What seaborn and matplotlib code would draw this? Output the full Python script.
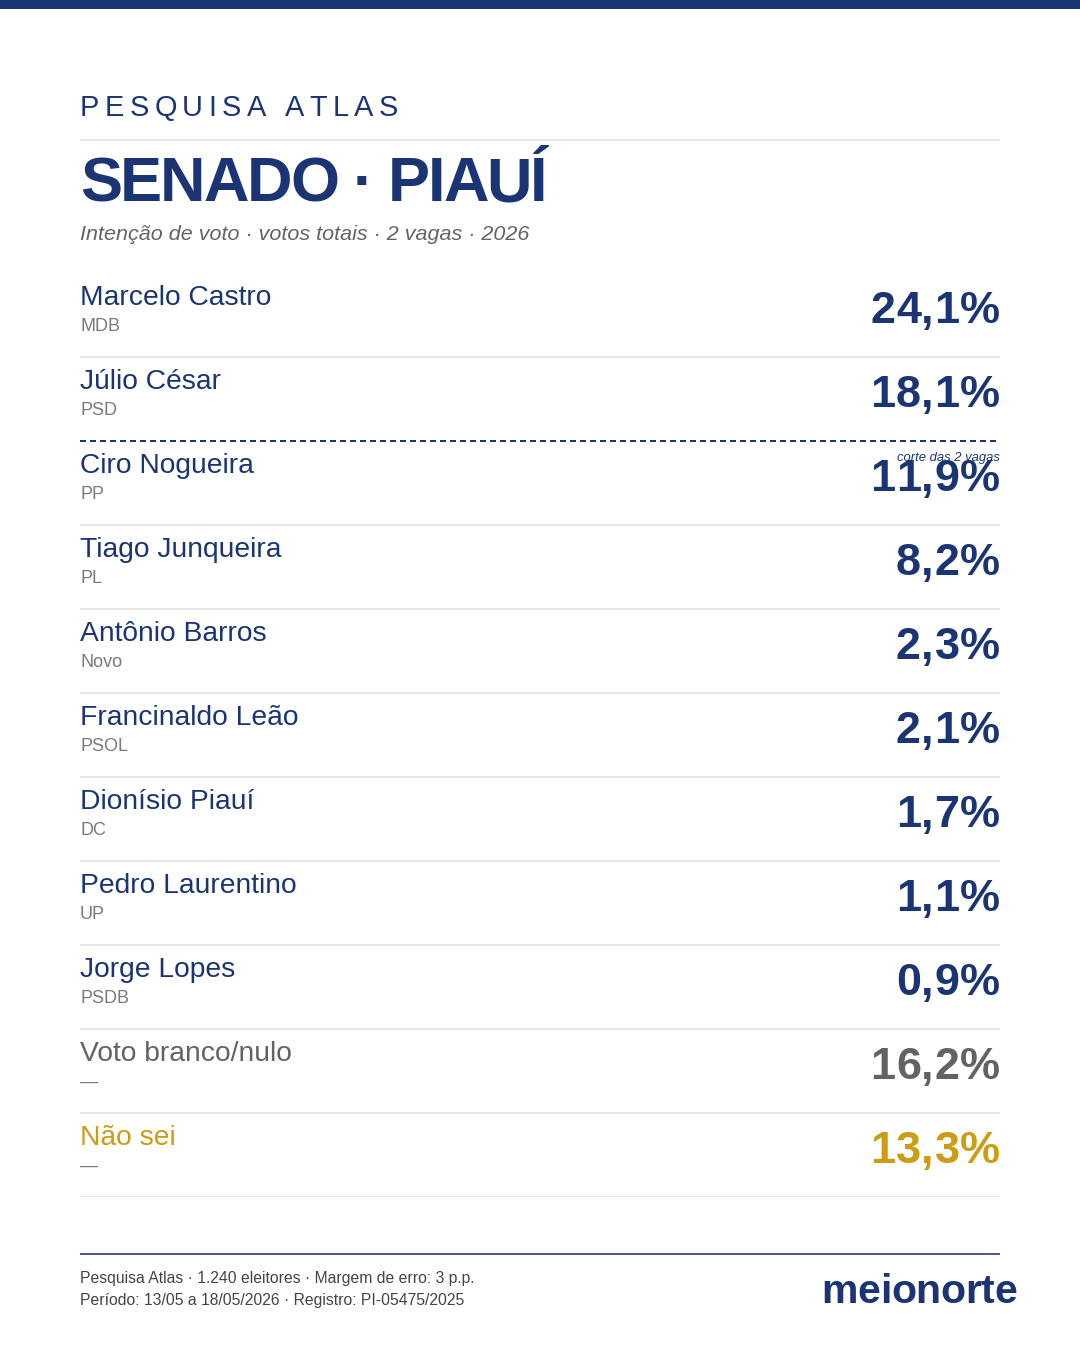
import matplotlib
matplotlib.use("Agg")
import matplotlib.pyplot as plt
import seaborn as sns
from matplotlib.font_manager import FontProperties, findfont
from matplotlib.ft2font import FT2Font

# ---------------- data ----------------
candidates = ["Marcelo Castro", "Júlio César", "Ciro Nogueira", "Tiago Junqueira",
              "Antônio Barros", "Francinaldo Leão", "Dionísio Piauí",
              "Pedro Laurentino", "Jorge Lopes", "Voto branco/nulo", "Não sei"]
parties = ["MDB", "PSD", "PP", "PL", "Novo", "PSOL", "DC", "UP", "PSDB", "—", "—"]
values = [24.1, 18.1, 11.9, 8.2, 2.3, 2.1, 1.7, 1.1, 0.9, 16.2, 13.3]
kinds = ["cand"] * 9 + ["blank", "unsure"]
seats = 2

kicker = "PESQUISA ATLAS"
title = "SENADO · PIAUÍ"
subtitle = "Intenção de voto · votos totais · 2 vagas · 2026"
cut_label = "corte das 2 vagas"
footer1 = "Pesquisa Atlas · 1.240 eleitores · Margem de erro: 3 p.p."
footer2 = "Período: 13/05 a 18/05/2026 · Registro: PI-05475/2025"
brand = "meionorte"

# ---------------- style ----------------
NAVY = "#1b3574"
GREY_PARTY = "#7a7a7a"
GREY = "#636363"
GOLD = "#cc9c14"
LINE = "#e8e8e8"

sns.set_theme(style="white")
plt.rcParams["font.family"] = ["Liberation Sans", "DejaVu Sans"]

W, H, DPI = 1080, 1350, 100
fig = plt.figure(figsize=(W / DPI, H / DPI), dpi=DPI)
fig.patch.set_facecolor("white")

bg = fig.add_axes([0, 0, 1, 1])
bg.set_xlim(0, W)
bg.set_ylim(H, 0)
bg.axis("off")


def px(v):
    return v * 72 / DPI


def tracked(ax, x, y, s, size_px, track_px=0.0, ha="left", weight="normal",
            style="normal", color="k"):
    prop = FontProperties(family="Liberation Sans", weight=weight, style=style)
    path = findfont(prop)
    f = FT2Font(path, hinting_factor=1)
    f.set_size(px(size_px), DPI)
    advs = [f.load_char(ord(c)).linearHoriAdvance / 65536 for c in s]
    total = sum(advs) + track_px * (len(s) - 1)
    cx = x if ha == "left" else x - total
    for c, a in zip(s, advs):
        ax.text(cx, y, c, fontsize=px(size_px), fontweight=weight, fontstyle=style,
                color=color, ha="left", va="baseline", family="Liberation Sans")
        cx += a + track_px


# top bar
bg.axhspan(0, 9, color=NAVY, lw=0)

# header
tracked(bg, 80, 116, kicker, 29, 5.4, color=NAVY)
bg.plot([80, 1000], [140, 140], color=LINE, lw=px(2), solid_capstyle="butt")
tracked(bg, 80, 201, title, 63, -2.0, weight="bold", color=NAVY)
bg.text(80, 240, subtitle, fontsize=px(21.5), fontstyle="italic", color=GREY,
        ha="left", va="baseline")

# ---------------- rows ----------------
top, bottom = 273, 1197
n = len(candidates)
ax = fig.add_axes([0, 1 - bottom / H, 1, (bottom - top) / H])
ax.set_xlim(0, W)
ax.set_ylim(n, 0)
ax.axis("off")
ax.patch.set_alpha(0)

row_h = (bottom - top) / n
name_col = {"cand": NAVY, "blank": GREY, "unsure": GOLD}
val_col = {"cand": NAVY, "blank": GREY, "unsure": GOLD}
party_col = {"cand": GREY_PARTY, "blank": GREY_PARTY, "unsure": GREY_PARTY}

for i, (nm, pt, v, k) in enumerate(zip(candidates, parties, values, kinds)):
    ax.text(80, i + 32 / row_h, nm, fontsize=px(28.2), color=name_col[k],
            ha="left", va="baseline")
    ax.text(80, i + 58 / row_h, pt, fontsize=px(18), color=party_col[k],
            ha="left", va="baseline")
    label = f"{v:.1f}".replace(".", ",") + "%"
    tracked(ax, 1000, i + 50 / row_h, label, 45, 0.5, ha="right",
            weight="bold", color=val_col[k])
    if i + 1 == seats:
        ax.plot([80, 1000], [i + 1, i + 1], color=NAVY, lw=px(2),
                linestyle=(0, (3, 2)))
        ax.text(1000, i + 1 + 20 / row_h, cut_label, fontsize=px(13),
                fontstyle="italic", color=NAVY, ha="right", va="baseline")
    else:
        ax.plot([80, 1000], [i + 1, i + 1], color=LINE, lw=px(2),
                solid_capstyle="butt")

# ---------------- footer ----------------
bg.plot([80, 1000], [1254, 1254], color="#4a5d96", lw=px(2), solid_capstyle="butt")
bg.text(80, 1283, footer1, fontsize=px(15.7), color="#444444", ha="left", va="baseline")
bg.text(80, 1305, footer2, fontsize=px(15.7), color="#444444", ha="left", va="baseline")
tracked(bg, 1017, 1303, brand, 41, -0.3, ha="right", weight="bold", color=NAVY)

fig.savefig("out.png", dpi=DPI, facecolor="white")
